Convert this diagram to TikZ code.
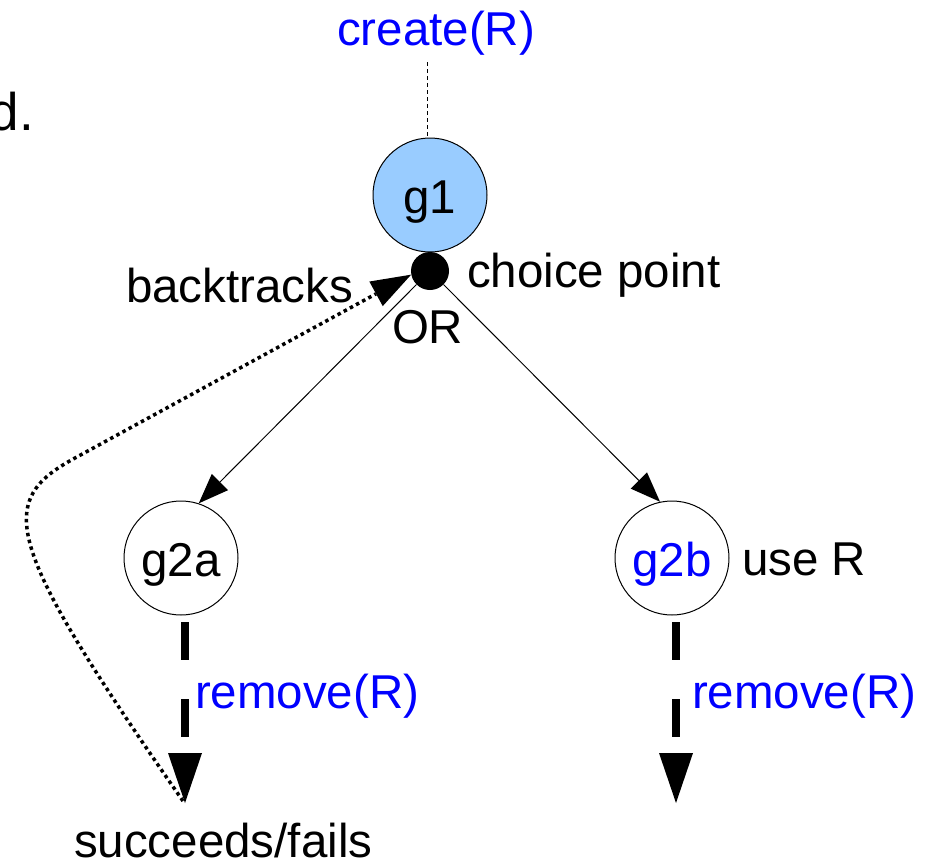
\documentclass[tikz,border=0pt]{standalone}
\usepackage{fontspec}
\setmainfont{Liberation Sans}
\usetikzlibrary{arrows.meta}
\definecolor{g1blue}{RGB}{153,204,255}
\definecolor{txtblue}{RGB}{0,0,255}
\tikzset{
  txt/.style={font=\fontsize{47.5}{56}\selectfont, inner sep=0pt, outer sep=0pt},
  goal/.style={circle, draw=black, line width=1pt, minimum size=114pt, inner sep=0pt,
    font=\fontsize{47.5}{56}\selectfont, text height=36pt, text depth=0pt},
  thinarrow/.style={line width=1pt, -{Triangle[length=30pt 0 1, width=23pt 0 1, line width=0pt 0 0]}},
  thickdash/.style={line width=8pt, dash pattern=on 38pt off 39pt,
    -{Triangle[length=50pt 0 1, width=34pt 0 1, line width=0pt 0 0]}},
  dotarrow/.style={line width=3.5pt, dash pattern=on 3.5pt off 3.5pt,
    -{Triangle[length=40pt 0 1, width=28pt 0 1, line width=0pt 0 0]}},
}
\begin{document}
\begin{tikzpicture}[x=1pt,y=-1pt]
\useasboundingbox (0,0) rectangle (926,862);
% cut-off title text
\node[inner sep=0pt, anchor=base east, font=\fontsize{53}{60}\selectfont] (title) at (34,130) {d.};
% top label
\node[txt, text=txtblue, anchor=base] (create) at (436,45) {create(R)};
\coordinate (ctop) at (427,62);
% goals
\node[goal, fill=g1blue] (g1) at (430,195) {g1};
\node[circle, fill=black, minimum size=38pt, inner sep=0pt] (cp) at (430,271) {};
\node[goal] (g2a) at (181,558) {g2a};
\node[goal, text=txtblue] (g2b) at (672,558) {g2b};
% labels
\node[txt, anchor=base west] (cptext) at (467,287) {choice point};
\node[txt, anchor=base west] (back) at (126,302) {backtracks};
\node[txt, anchor=base west] (or) at (392,343) {OR};
\node[txt, anchor=base west] (user) at (742,575) {use R};
\node[txt, text=txtblue, anchor=base west] (remA) at (195,708) {remove(R)};
\node[txt, text=txtblue, anchor=base west] (remB) at (692,708) {remove(R)};
\node[txt, anchor=base west] (sf) at (74,857) {succeeds/fails};
% connectors
\draw[line width=1pt, dash pattern=on 4pt off 3pt] (ctop) -- (ctop |- g1.north);
\draw[thinarrow] (cp.225) -- (g2a.72);
\draw[thinarrow] (cp.315) -- (g2b.102);
\coordinate (sA) at (185,622);
\coordinate (tA) at (185,803);
\coordinate (sB) at (676,622);
\coordinate (tB) at (676,803);
\draw[thickdash] (sA) -- (tA);
\draw[thickdash] (sB) -- (tB);
\coordinate (dstart) at (183,801);
\draw[dotarrow] (dstart) .. controls (1,540) and (-4,501) .. (75,458) -- (cp.191);
\end{tikzpicture}
\end{document}
